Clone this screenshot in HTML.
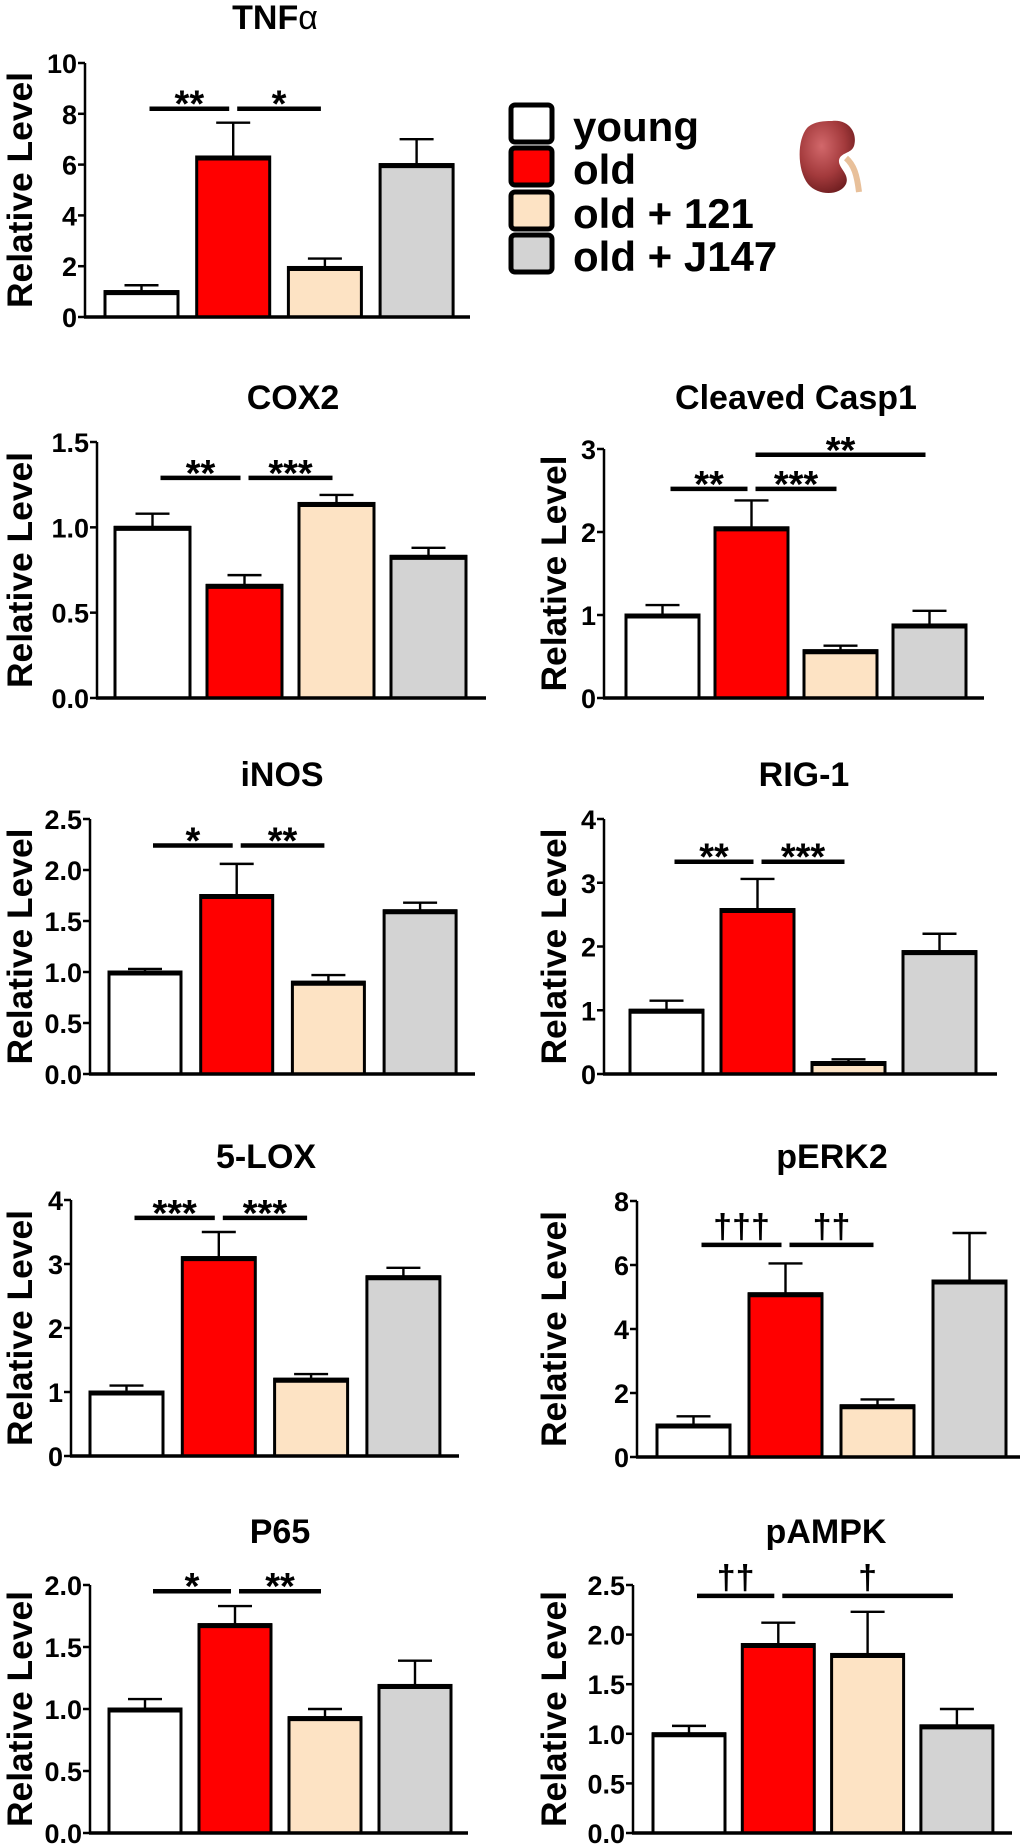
<!DOCTYPE html>
<html><head><meta charset="utf-8"><style>
html,body{margin:0;padding:0;background:#fff;}
svg{display:block;font-family:"Liberation Sans",Arial,sans-serif;}
</style></head><body>
<svg id="fig" width="1020" height="1848" viewBox="0 0 1020 1848" xmlns="http://www.w3.org/2000/svg">
<g id="legend">
  <rect x="511" y="105" width="41" height="37" rx="4" fill="#ffffff" stroke="#000" stroke-width="5"/>
  <rect x="511" y="148" width="41" height="37" rx="4" fill="#ff0000" stroke="#000" stroke-width="5"/>
  <rect x="511" y="192" width="41" height="37" rx="4" fill="#fde3c4" stroke="#000" stroke-width="5"/>
  <rect x="511" y="235" width="41" height="37" rx="4" fill="#d3d3d3" stroke="#000" stroke-width="5"/>
  <text x="573" y="141" font-size="42" font-weight="bold">young</text>
  <text x="573" y="184" font-size="42" font-weight="bold">old</text>
  <text x="573" y="228" font-size="42" font-weight="bold">old + 121</text>
  <text x="573" y="271" font-size="42" font-weight="bold">old + J147</text>
</g>
<g>
  <defs><radialGradient id="kg" cx="0.4" cy="0.35" r="0.7"><stop offset="0" stop-color="#d2686b"/><stop offset="0.6" stop-color="#a33a3c"/><stop offset="1" stop-color="#6e1d1f"/></radialGradient></defs>
  <path d="M859,192 C857,175 854,165 846,158" stroke="#e8c09a" stroke-width="6" fill="none"/>
  <path d="M832,121 C848,119 858,132 854,146 C851,154 841,152 839,160 C838,168 850,174 846,184 C840,196 818,196 808,184 C797,170 797,140 807,128 C813,122 822,121 832,121 Z" fill="url(#kg)"/>
</g>
</svg>
<script>
// ---- data ----
const groups = ["young", "old", "old + 121", "old + J147"];
const tnfValues = [1.0, 6.3, 1.95, 6.0];
const tnfErrors = [0.25, 1.35, 0.35, 1.0];
const tnfTicks = ["0", "2", "4", "6", "8", "10"];
const cox2Values = [1.0, 0.66, 1.14, 0.83];
const cox2Errors = [0.08, 0.06, 0.05, 0.05];
const cox2Ticks = ["0.0", "0.5", "1.0", "1.5"];
const casp1Values = [1.0, 2.05, 0.57, 0.88];
const casp1Errors = [0.12, 0.33, 0.06, 0.17];
const casp1Ticks = ["0", "1", "2", "3"];
const inosValues = [1.0, 1.75, 0.9, 1.6];
const inosErrors = [0.03, 0.31, 0.07, 0.08];
const inosTicks = ["0.0", "0.5", "1.0", "1.5", "2.0", "2.5"];
const rigValues = [1.0, 2.58, 0.18, 1.92];
const rigErrors = [0.15, 0.48, 0.05, 0.28];
const rigTicks = ["0", "1", "2", "3", "4"];
const loxValues = [1.0, 3.1, 1.2, 2.8];
const loxErrors = [0.1, 0.4, 0.08, 0.14];
const loxTicks = ["0", "1", "2", "3", "4"];
const perkValues = [1.0, 5.1, 1.6, 5.5];
const perkErrors = [0.27, 0.95, 0.2, 1.5];
const perkTicks = ["0", "2", "4", "6", "8"];
const p65Values = [1.0, 1.68, 0.93, 1.19];
const p65Errors = [0.08, 0.15, 0.07, 0.2];
const p65Ticks = ["0.0", "0.5", "1.0", "1.5", "2.0"];
const pampkValues = [1.0, 1.9, 1.8, 1.08];
const pampkErrors = [0.08, 0.22, 0.43, 0.17];
const pampkTicks = ["0.0", "0.5", "1.0", "1.5", "2.0", "2.5"];
// significance: [fromIndex, toIndex, level (data units), label]
const tnfSig = [[0, 1, 8.2, "**"], [1, 2, 8.2, "*"]];
const cox2Sig = [[0, 1, 1.29, "**"], [1, 2, 1.29, "***"]];
const casp1Sig = [[0, 1, 2.52, "**"], [1, 2, 2.52, "***"], [1, 3, 2.93, "**"]];
const inosSig = [[0, 1, 2.24, "*"], [1, 2, 2.24, "**"]];
const rigSig = [[0, 1, 3.33, "**"], [1, 2, 3.33, "***"]];
const loxSig = [[0, 1, 3.72, "***"], [1, 2, 3.72, "***"]];
const perkSig = [[0, 1, 6.63, "†††"], [1, 2, 6.63, "††"]];
const p65Sig = [[0, 1, 1.95, "*"], [1, 2, 1.95, "**"]];
const pampkSig = [[0, 1, 2.39, "††"], [1, 3, 2.39, "†"]];

// ---- layout (not data) ----
const colors = ["#ffffff", "#ff0000", "#fde3c4", "#d3d3d3"];
const charts = [
  {id:"tnf", title:"TNF", alpha:true, values:tnfValues, errors:tnfErrors, ticks:tnfTicks, sig:tnfSig, ax:85, top:63, zero:317, xEnd:470, b0:105, pitch:91.7, bw:73, tx:275, ty:29, lx:32},
  {id:"cox2", title:"COX2", values:cox2Values, errors:cox2Errors, ticks:cox2Ticks, sig:cox2Sig, ax:97, top:442, zero:698, xEnd:486, b0:115, pitch:92, bw:75, tx:293, ty:409, lx:32},
  {id:"casp1", title:"Cleaved Casp1", values:casp1Values, errors:casp1Errors, ticks:casp1Ticks, sig:casp1Sig, ax:604, top:449, zero:698, xEnd:984, b0:626, pitch:89, bw:73, tx:796, ty:409, lx:566},
  {id:"inos", title:"iNOS", values:inosValues, errors:inosErrors, ticks:inosTicks, sig:inosSig, ax:90, top:819, zero:1074, xEnd:475, b0:109, pitch:91.7, bw:72, tx:282, ty:786, lx:32},
  {id:"rig1", title:"RIG-1", values:rigValues, errors:rigErrors, ticks:rigTicks, sig:rigSig, ax:604, top:819, zero:1074, xEnd:997, b0:630, pitch:91, bw:73, tx:804, ty:786, lx:566},
  {id:"lox5", title:"5-LOX", values:loxValues, errors:loxErrors, ticks:loxTicks, sig:loxSig, ax:71, top:1200, zero:1456, xEnd:459, b0:90, pitch:92.3, bw:73, tx:266, ty:1168, lx:32},
  {id:"perk2", title:"pERK2", values:perkValues, errors:perkErrors, ticks:perkTicks, sig:perkSig, ax:637, top:1201, zero:1457, xEnd:1020, b0:657, pitch:92, bw:73, tx:832, ty:1168, lx:566},
  {id:"p65", title:"P65", values:p65Values, errors:p65Errors, ticks:p65Ticks, sig:p65Sig, ax:90, top:1585, zero:1833, xEnd:468, b0:109, pitch:90, bw:72, tx:280, ty:1543, lx:32},
  {id:"pampk", title:"pAMPK", values:pampkValues, errors:pampkErrors, ticks:pampkTicks, sig:pampkSig, ax:633, top:1585, zero:1833, xEnd:1012, b0:653, pitch:89.3, bw:72, tx:826, ty:1543, lx:566}
];
const NS = "http://www.w3.org/2000/svg";
const svg = document.getElementById("fig");
function mk(tag, attrs, parent) {
  const e = document.createElementNS(NS, tag);
  for (const k in attrs) e.setAttribute(k, attrs[k]);
  parent.appendChild(e);
  return e;
}
charts.forEach(c => {
  const g = mk("g", {}, svg);
  
  
  const maxV = parseFloat(c.ticks[c.ticks.length - 1]);
  const y = v => c.zero - (v / maxV) * (c.zero - c.top);
  const xLeft = i => c.b0 + i * c.pitch;
  const xCenter = i => xLeft(i) + c.bw / 2;
  // title
  const t = mk("text", {x:c.tx, y:c.ty, "text-anchor":"middle", "font-size":34, "font-weight":"bold"}, g);
  
  
  t.textContent = c.title;
  if (c.alpha) { const s = mk("tspan", {"font-weight":"normal"}, t); s.textContent = "α"; }
  // y label
  const yl = mk("text", {transform:`translate(${c.lx},${(c.top + c.zero) / 2}) rotate(-90)`, "text-anchor":"middle", "font-size":35, "font-weight":"bold", textLength:236, lengthAdjust:"spacingAndGlyphs"}, g);
  
  
  yl.textContent = "Relative Level";
  // bars
  c.values.forEach((v, i) => {
    const x = xLeft(i), yt = y(v), ye = y(v + c.errors[i]), cx = xCenter(i);
    const eb = mk("path", {d:`M${cx},${yt} V${ye} M${cx - 17},${ye} H${cx + 17}`, stroke:"#000", "stroke-width":2.4, fill:"none"}, g);
    
    
    const r = mk("rect", {x:x, y:yt, width:c.bw, height:c.zero - yt, fill:colors[i], stroke:"#000", "stroke-width":3}, g);
    
    
    const tl = mk("line", {x1:x - 1, x2:x + c.bw + 1, y1:yt + 1, y2:yt + 1, stroke:"#000", "stroke-width":5}, g);
    
    
  });
  // axes
  const ya = mk("line", {x1:c.ax, x2:c.ax, y1:c.top, y2:c.zero, stroke:"#000", "stroke-width":2.5}, g);
  
  
  const xa = mk("line", {x1:c.ax - 1, x2:c.xEnd, y1:c.zero, y2:c.zero, stroke:"#000", "stroke-width":3.5}, g);
  
  
  c.ticks.forEach(tk => {
    const ty = y(parseFloat(tk));
    const tm = mk("line", {x1:c.ax - 7, x2:c.ax, y1:ty, y2:ty, stroke:"#000", "stroke-width":2.5}, g);
    
    
    const tt = mk("text", {x:c.ax - 8, y:ty + 10, "text-anchor":"end", "font-size":27, "font-weight":"bold"}, g);
    
    
    tt.textContent = tk;
  });
  // significance
  c.sig.forEach(s => {
    const ly = y(s[2]);
    const x1 = xCenter(s[0]) + (s[0] === 0 ? 8 : 4), x2 = xCenter(s[1]) - 4;
    const sl = mk("line", {x1:x1, x2:x2, y1:ly, y2:ly, stroke:"#000", "stroke-width":4.5}, g);
    
    
    const dag = s[3].indexOf("†") >= 0;
    const st = mk("text", {x:(x1 + x2) / 2, y:dag ? ly - 7 : ly + 8, "text-anchor":"middle", "font-size":dag ? 34 : 38, "font-weight":"bold"}, g);
    
    
    st.textContent = s[3];
  });
});
</script>
</body></html>
